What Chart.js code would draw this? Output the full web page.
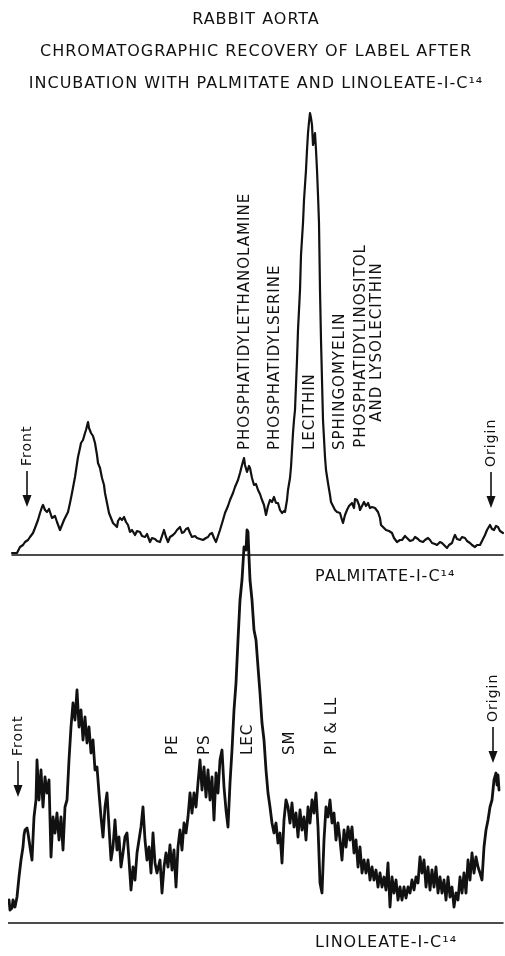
<!DOCTYPE html>
<html>
<head>
<meta charset="utf-8">
<script src="https://cdn.jsdelivr.net/npm/chart.js@4/dist/chart.umd.min.js"></script>
<style>
  html, body { margin: 0; padding: 0; background: #fff; }
  canvas { display: block; }
</style>
</head>
<body>
<canvas id="myChart" width="505" height="956"></canvas>
<script>
// Palmitate-1-C14 scan: position along strip (front -> origin) and counts
const palmPos = [4, 9, 12, 15, 17, 20, 22, 25, 27, 30, 32, 34, 35, 37, 39, 41, 44, 47, 49, 52, 54, 56, 58, 60, 62, 64, 67, 70, 72, 73, 75, 77, 78, 80, 81, 83, 85, 87, 89, 90, 92, 94, 96, 97, 99, 101, 103, 105, 107, 109, 110, 112, 114, 116, 118, 120, 122, 124, 127, 129, 132, 134, 137, 139, 142, 144, 147, 149, 152, 154, 156, 158, 160, 162, 165, 167, 169, 172, 174, 176, 178, 180, 182, 184, 187, 189, 192, 195, 198, 200, 202, 204, 206, 208, 210, 212, 215, 217, 220, 222, 225, 227, 230, 232, 234, 236, 237, 239, 241, 242, 244, 246, 248, 250, 252, 254, 256, 258, 260, 262, 264, 266, 268, 270, 272, 274, 276, 277, 279, 280, 282, 283, 284, 285, 286, 287, 289, 290, 292, 293, 295, 296, 298, 299, 300, 301, 302, 303, 304, 305, 306, 307, 308, 309, 310, 311, 312, 313, 314, 315, 317, 318, 320, 322, 323, 325, 327, 329, 332, 334, 335, 337, 339, 341, 344, 346, 347, 349, 351, 352, 354, 356, 358, 360, 362, 364, 367, 370, 372, 373, 375, 378, 381, 384, 386, 389, 392, 394, 397, 399, 402, 405, 407, 410, 412, 415, 417, 420, 422, 424, 427, 429, 432, 434, 437, 439, 441, 444, 446, 447, 449, 452, 454, 457, 459, 462, 464, 467, 469, 472, 474, 477, 479, 482, 484, 486, 488, 490, 492, 495];
const palmCounts = [2, 2, 8, 10, 13, 15, 18, 22, 27, 35, 42, 48, 50, 45, 43, 46, 37, 39, 33, 25, 30, 35, 39, 43, 52, 62, 78, 98, 107, 112, 115, 122, 125, 133, 127, 122, 119, 112, 100, 92, 87, 77, 70, 62, 52, 42, 37, 32, 30, 28, 34, 37, 35, 38, 33, 30, 23, 25, 20, 24, 23, 19, 18, 21, 13, 17, 16, 14, 13, 19, 25, 18, 13, 18, 20, 22, 25, 28, 22, 23, 26, 27, 22, 18, 19, 17, 16, 15, 17, 18, 21, 22, 17, 13, 19, 25, 35, 42, 49, 55, 62, 68, 75, 82, 90, 97, 90, 83, 89, 87, 77, 70, 71, 65, 61, 55, 50, 40, 49, 55, 53, 58, 52, 52, 45, 42, 44, 43, 55, 65, 77, 88, 105, 122, 135, 145, 195, 225, 265, 300, 332, 355, 385, 405, 422, 433, 442, 437, 430, 410, 415, 422, 405, 385, 360, 332, 265, 215, 175, 135, 98, 85, 72, 60, 53, 49, 45, 43, 42, 35, 32, 40, 45, 49, 52, 47, 56, 55, 50, 45, 49, 53, 49, 52, 47, 48, 47, 43, 37, 30, 28, 25, 24, 22, 17, 13, 15, 15, 19, 17, 14, 15, 18, 16, 14, 13, 15, 17, 15, 12, 11, 10, 13, 12, 9, 7, 10, 12, 18, 20, 16, 15, 18, 17, 14, 12, 10, 8, 10, 10, 14, 20, 25, 30, 26, 25, 29, 28, 24, 22];

// Linoleate-1-C14 scan
const linoPos = [1, 2, 4, 5, 7, 9, 11, 13, 15, 16, 17, 19, 20, 22, 24, 26, 28, 29, 31, 33, 35, 37, 39, 41, 43, 45, 47, 49, 51, 53, 55, 57, 59, 61, 63, 65, 67, 69, 71, 73, 75, 77, 79, 81, 83, 85, 87, 89, 91, 93, 95, 97, 99, 101, 103, 105, 107, 109, 111, 113, 115, 117, 119, 121, 123, 125, 127, 129, 131, 133, 135, 137, 139, 141, 143, 145, 147, 149, 152, 154, 156, 158, 160, 162, 164, 166, 168, 170, 172, 174, 176, 178, 180, 182, 184, 186, 188, 190, 192, 194, 196, 198, 200, 202, 204, 206, 208, 210, 212, 214, 216, 218, 220, 222, 224, 226, 228, 230, 232, 234, 236, 238, 239, 240, 241, 242, 244, 246, 248, 250, 252, 254, 256, 258, 260, 262, 264, 266, 268, 270, 272, 274, 276, 278, 280, 282, 284, 286, 288, 290, 292, 294, 296, 298, 300, 302, 304, 306, 308, 310, 312, 314, 316, 318, 320, 322, 324, 326, 328, 330, 332, 334, 336, 338, 340, 342, 344, 346, 348, 350, 352, 354, 356, 358, 360, 362, 364, 366, 368, 370, 372, 374, 376, 378, 380, 382, 384, 386, 388, 390, 392, 394, 396, 398, 400, 402, 404, 406, 408, 410, 412, 414, 416, 418, 420, 422, 424, 426, 428, 430, 432, 434, 436, 438, 440, 442, 444, 446, 448, 450, 452, 454, 456, 458, 460, 462, 464, 466, 468, 470, 472, 474, 476, 478, 480, 482, 484, 486, 488, 489, 490, 491];
const linoCounts = [23, 13, 15, 23, 16, 26, 46, 63, 76, 88, 93, 95, 90, 76, 63, 106, 123, 163, 123, 153, 116, 146, 130, 143, 66, 106, 90, 110, 83, 106, 73, 116, 123, 163, 196, 220, 203, 233, 196, 213, 183, 206, 180, 196, 170, 183, 153, 156, 130, 106, 86, 116, 130, 96, 63, 76, 103, 73, 86, 56, 70, 86, 90, 63, 33, 56, 43, 70, 83, 96, 116, 83, 63, 76, 50, 90, 60, 50, 63, 30, 56, 70, 56, 78, 53, 73, 36, 76, 93, 73, 100, 90, 106, 130, 110, 130, 116, 140, 163, 133, 156, 126, 153, 123, 146, 103, 150, 130, 163, 173, 136, 113, 96, 140, 173, 213, 240, 283, 323, 343, 376, 373, 393, 391, 366, 343, 323, 293, 283, 256, 230, 200, 183, 153, 130, 116, 100, 90, 100, 80, 90, 60, 103, 123, 116, 100, 120, 96, 110, 86, 113, 93, 106, 83, 116, 100, 123, 110, 130, 96, 40, 30, 83, 116, 106, 123, 100, 110, 83, 100, 83, 63, 93, 76, 96, 83, 96, 70, 83, 56, 76, 50, 63, 50, 63, 43, 56, 43, 53, 36, 50, 36, 46, 33, 60, 16, 46, 30, 43, 23, 36, 23, 36, 25, 36, 30, 43, 33, 46, 40, 66, 50, 63, 36, 56, 33, 53, 36, 56, 30, 46, 30, 43, 23, 46, 26, 36, 16, 30, 23, 46, 30, 50, 30, 63, 43, 70, 50, 66, 56, 50, 43, 76, 93, 103, 116, 123, 143, 150, 138, 148, 133];

// Baseline extents of each strip
const palmBaseline = [4, 495];
const linoBaseline = [0, 495];

// Spot labels
const palmSpots = ['PHOSPHATIDYLETHANOLAMINE', 'PHOSPHATIDYLSERINE', 'LECITHIN', 'SPHINGOMYELIN', ['PHOSPHATIDYLINOSITOL', 'AND LYSOLECITHIN']];
const palmSpotPos = [237, 267, 302, 332, 361];
const linoSpots = ['PE', 'PS', 'LEC', 'SM', 'PI & LL'];
const linoSpotPos = [165, 197, 240, 282, 324];

const FONT = '"DejaVu Sans", "Liberation Sans", sans-serif';

function toPoints(xs, ys) {
    return xs.map((x, i) => ({ x: x, y: ys[i] }));
}

// draws the rotated spot names, front/origin arrows and strip names
const annotations = {
    id: 'annotations',
    beforeDraw(chart) {
        chart.ctx.letterSpacing = '1px';
    },
    afterDatasetsDraw(chart) {
        const ctx = chart.ctx;
        const x = chart.scales.x, yP = chart.scales.yP, yL = chart.scales.yL;
        ctx.save();
        ctx.fillStyle = '#111';
        ctx.strokeStyle = '#111';

        function vtext(str, px, py, size, align) {
            ctx.save();
            ctx.translate(px, py);
            ctx.rotate(-Math.PI / 2);
            ctx.font = size + 'px ' + FONT;
            ctx.textAlign = align || 'left';
            ctx.textBaseline = 'middle';
            ctx.fillText(str, 0, 0);
            ctx.restore();
        }

        function marker(label, px, tipY) {
            ctx.lineWidth = 1.6;
            ctx.beginPath();
            ctx.moveTo(px, tipY - 36);
            ctx.lineTo(px, tipY - 10);
            ctx.stroke();
            ctx.beginPath();
            ctx.moveTo(px - 4.5, tipY - 12);
            ctx.lineTo(px + 4.5, tipY - 12);
            ctx.lineTo(px, tipY);
            ctx.closePath();
            ctx.fill();
            vtext(label, px, tipY - 41, 14);
        }

        // upper strip
        palmSpots.forEach((s, i) => {
            const px = x.getPixelForValue(palmSpotPos[i]);
            if (Array.isArray(s)) {
                vtext(s[0], px - 8, yP.getPixelForValue(209), 15, 'center');
                vtext(s[1], px + 8, yP.getPixelForValue(213), 15, 'center');
            } else {
                vtext(s, px, yP.getPixelForValue(105), 15);
            }
        });
        marker('Front', x.getPixelForValue(19), yP.getPixelForValue(48));
        marker('Origin', x.getPixelForValue(483), yP.getPixelForValue(47));

        // lower strip
        linoSpots.forEach((s, i) => {
            vtext(s, x.getPixelForValue(linoSpotPos[i]), yL.getPixelForValue(168), 15);
        });
        marker('Front', x.getPixelForValue(10), yL.getPixelForValue(126));
        marker('Origin', x.getPixelForValue(485), yL.getPixelForValue(160));

        ctx.font = '16px ' + FONT;
        ctx.textAlign = 'left';
        ctx.textBaseline = 'middle';
        ctx.fillText('PALMITATE-I-C\u00B9\u2074', x.getPixelForValue(307), yP.getPixelForValue(-22));
        ctx.fillText('LINOLEATE-I-C\u00B9\u2074', x.getPixelForValue(307), yL.getPixelForValue(-20));
        ctx.restore();
    }
};

const data = {
    datasets: [
        { label: 'Palmitate-1-C14', data: toPoints(palmPos, palmCounts), yAxisID: 'yP', borderWidth: 2.2 },
        { label: 'Linoleate-1-C14', data: toPoints(linoPos, linoCounts), yAxisID: 'yL', borderWidth: 2.8 },
        { label: 'palm base', data: toPoints(palmBaseline, [0, 0]), yAxisID: 'yP', borderWidth: 1.5 },
        { label: 'lino base', data: toPoints(linoBaseline, [0, 0]), yAxisID: 'yL', borderWidth: 1.5 }
    ]
};

const options = {
    responsive: false,
    animation: false,
    events: [],
    layout: { padding: { top: 4, left: 8, right: 1, bottom: 0 } },
    elements: {
        point: { radius: 0 },
        line: { borderColor: '#111', tension: 0, borderJoinStyle: 'round', borderCapStyle: 'round' }
    },
    plugins: {
        legend: { display: false },
        tooltip: { enabled: false },
        title: {
            display: true,
            text: ['RABBIT AORTA', 'CHROMATOGRAPHIC RECOVERY OF LABEL AFTER', 'INCUBATION WITH PALMITATE AND LINOLEATE-I-C\u00B9\u2074'],
            color: '#111',
            font: { family: FONT, size: 16, weight: 'normal', lineHeight: 2 },
            padding: 0
        }
    },
    scales: {
        x: { type: 'linear', min: 0, max: 496, display: false },
        yP: { type: 'linear', min: -401, max: 455, display: false },
        yL: { type: 'linear', min: -33, max: 823, display: false }
    }
};

const ctx = document.getElementById('myChart').getContext('2d');
const myChart = new Chart(ctx, {
    type: 'line',
    data: data,
    options: options,
    plugins: [annotations]
});
</script>
</body>
</html>
